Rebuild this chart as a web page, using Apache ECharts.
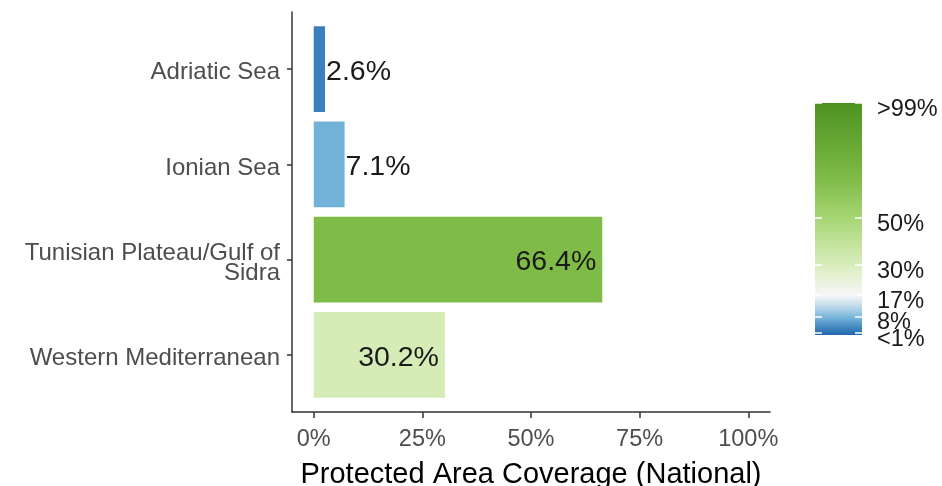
<!DOCTYPE html>
<html>
<head>
<meta charset="utf-8">
<script src="https://cdn.jsdelivr.net/npm/echarts@6/dist/echarts.min.js"></script>
<style>
html,body{margin:0;padding:0;background:#fff;}
#main{width:942px;height:486px;}
</style>
</head>
<body>
<div id="main"></div>
<script>
const categories = ['Adriatic Sea', 'Ionian Sea', 'Tunisian Plateau/Gulf of\nSidra', 'Western Mediterranean'];
const coverage = [2.6, 7.1, 66.4, 30.2];
const barColors = ['#3b80be', '#72b1d8', '#7fbb47', '#d5ecb6'];
const xTicks = [0, 25, 50, 75, 100];
const legendTicks = [1, 8, 17, 30, 50, 99];
const legendLabels = ['<1%', '8%', '17%', '30%', '50%', '>99%'];
const legendStopValues = [0, 2.6, 7.1, 12, 17, 30, 50, 66.4, 99];
const legendStopColors = ['#2166ac', '#3b80be', '#72b1d8', '#bcd8ea', '#f7f7f7', '#d8edbc', '#a6d574', '#7fbb47', '#4d9221'];

const FONT = 'Liberation Sans, Arial, sans-serif';
const legendMax = legendTicks[legendTicks.length - 1];

const chart = echarts.init(document.getElementById('main'), null, {renderer: 'canvas'});

const barData = coverage.map((v, i) => ({
  value: v,
  itemStyle: {color: barColors[i]},
  label: {
    position: v < 20 ? 'right' : 'insideRight',
    distance: v < 20 ? 1 : 6
  }
}));

const g = {outerBoundsMode: 'none', containLabel: false};

// labels are split over two axes (alternating ticks) so that close labels are not auto-hidden
function legendLabelAxis(values) {
  return {
    gridIndex: 2, type: 'value', min: 0, max: legendMax, position: 'right', z: 10,
    axisLine: {show: false, onZero: false},
    axisTick: {show: false},
    axisLabel: {
      show: true, customValues: values, margin: 15, hideOverlap: false,
      showMinLabel: true, showMaxLabel: true,
      verticalAlign: 'top', lineHeight: 13,
      formatter: v => legendLabels[legendTicks.indexOf(v)],
      color: '#1a1a1a', fontSize: 23.5, fontFamily: FONT
    },
    splitLine: {show: false}
  };
}

const option = {
  animation: false,
  backgroundColor: '#fff',
  grid: [
    Object.assign({left: 292, top: 12, width: 478, height: 400}, g),
    Object.assign({left: 292, top: 21.5, width: 478, height: 381}, g),
    Object.assign({left: 815, top: 103, width: 47, height: 232}, g),
    Object.assign({left: 292, top: 25, width: 478, height: 381}, g)
  ],
  xAxis: [
    {
      gridIndex: 0, type: 'value', min: -5, max: 105,
      axisLine: {show: true, onZero: false, lineStyle: {color: '#333', width: 1.5}},
      axisTick: {show: true, length: 6, lineStyle: {color: '#333', width: 1.5}, customValues: xTicks},
      axisLabel: {show: true, customValues: xTicks, formatter: v => v + '%', color: '#4d4d4d', fontSize: 23.5, fontFamily: FONT, margin: 16, hideOverlap: false},
      splitLine: {show: false},
      name: 'Protected Area Coverage (National)',
      nameLocation: 'middle', nameGap: 48,
      nameTextStyle: {color: '#000', fontSize: 29, fontFamily: FONT}
    },
    {gridIndex: 1, type: 'value', min: -5, max: 105, show: false},
    {gridIndex: 2, type: 'category', data: ['c'], show: false},
    {gridIndex: 3, type: 'value', min: -5, max: 105, show: false}
  ],
  yAxis: [
    {
      gridIndex: 0, type: 'value', min: 0, max: 1,
      axisLine: {show: true, onZero: false, lineStyle: {color: '#333', width: 1.5}},
      axisTick: {show: false}, axisLabel: {show: false}, splitLine: {show: false}
    },
    {
      gridIndex: 1, type: 'category', data: categories, inverse: true,
      axisLine: {show: false, onZero: false},
      axisTick: {show: true, alignWithLabel: true, length: 5, lineStyle: {color: '#333', width: 1.5}},
      axisLabel: {show: false}
    },
    {
      gridIndex: 2, type: 'value', min: 0, max: legendMax, position: 'left', z: 10,
      axisLine: {show: false, onZero: false},
      axisTick: {show: true, inside: true, length: 7, customValues: legendTicks, lineStyle: {color: '#fff', width: 1.5}},
      axisLabel: {show: false}, splitLine: {show: false}
    },
    {
      gridIndex: 2, type: 'value', min: 0, max: legendMax, position: 'right', z: 10,
      axisLine: {show: false, onZero: false},
      axisTick: {show: true, inside: true, length: 7, customValues: legendTicks, lineStyle: {color: '#fff', width: 1.5}},
      axisLabel: {show: false},
      splitLine: {show: false}
    },
    legendLabelAxis(legendTicks.filter((v, i) => i % 2 === 0)),
    legendLabelAxis(legendTicks.filter((v, i) => i % 2 === 1)),
    {
      gridIndex: 3, type: 'category', data: categories, inverse: true,
      axisLine: {show: false, onZero: false},
      axisTick: {show: false},
      axisLabel: {color: '#4d4d4d', fontSize: 24, fontFamily: FONT, margin: 12, lineHeight: 20, align: 'right', hideOverlap: false}
    }
  ],
  series: [
    {
      type: 'bar', xAxisIndex: 1, yAxisIndex: 1,
      data: barData, barWidth: '90%',
      label: {show: true, formatter: p => p.value.toFixed(1) + '%', color: '#1a1a1a', fontSize: 28.5, fontFamily: FONT, offset: [0, 3]},
      emphasis: {disabled: true}, silent: true
    },
    {
      type: 'bar', xAxisIndex: 2, yAxisIndex: 2,
      data: [legendMax], barWidth: '100%',
      itemStyle: {
        color: {
          type: 'linear', x: 0, y: 1, x2: 0, y2: 0,
          colorStops: legendStopValues.map((v, i) => ({offset: v / legendMax, color: legendStopColors[i]}))
        }
      },
      emphasis: {disabled: true}, silent: true
    }
  ]
};
chart.setOption(option);
</script>
</body>
</html>
